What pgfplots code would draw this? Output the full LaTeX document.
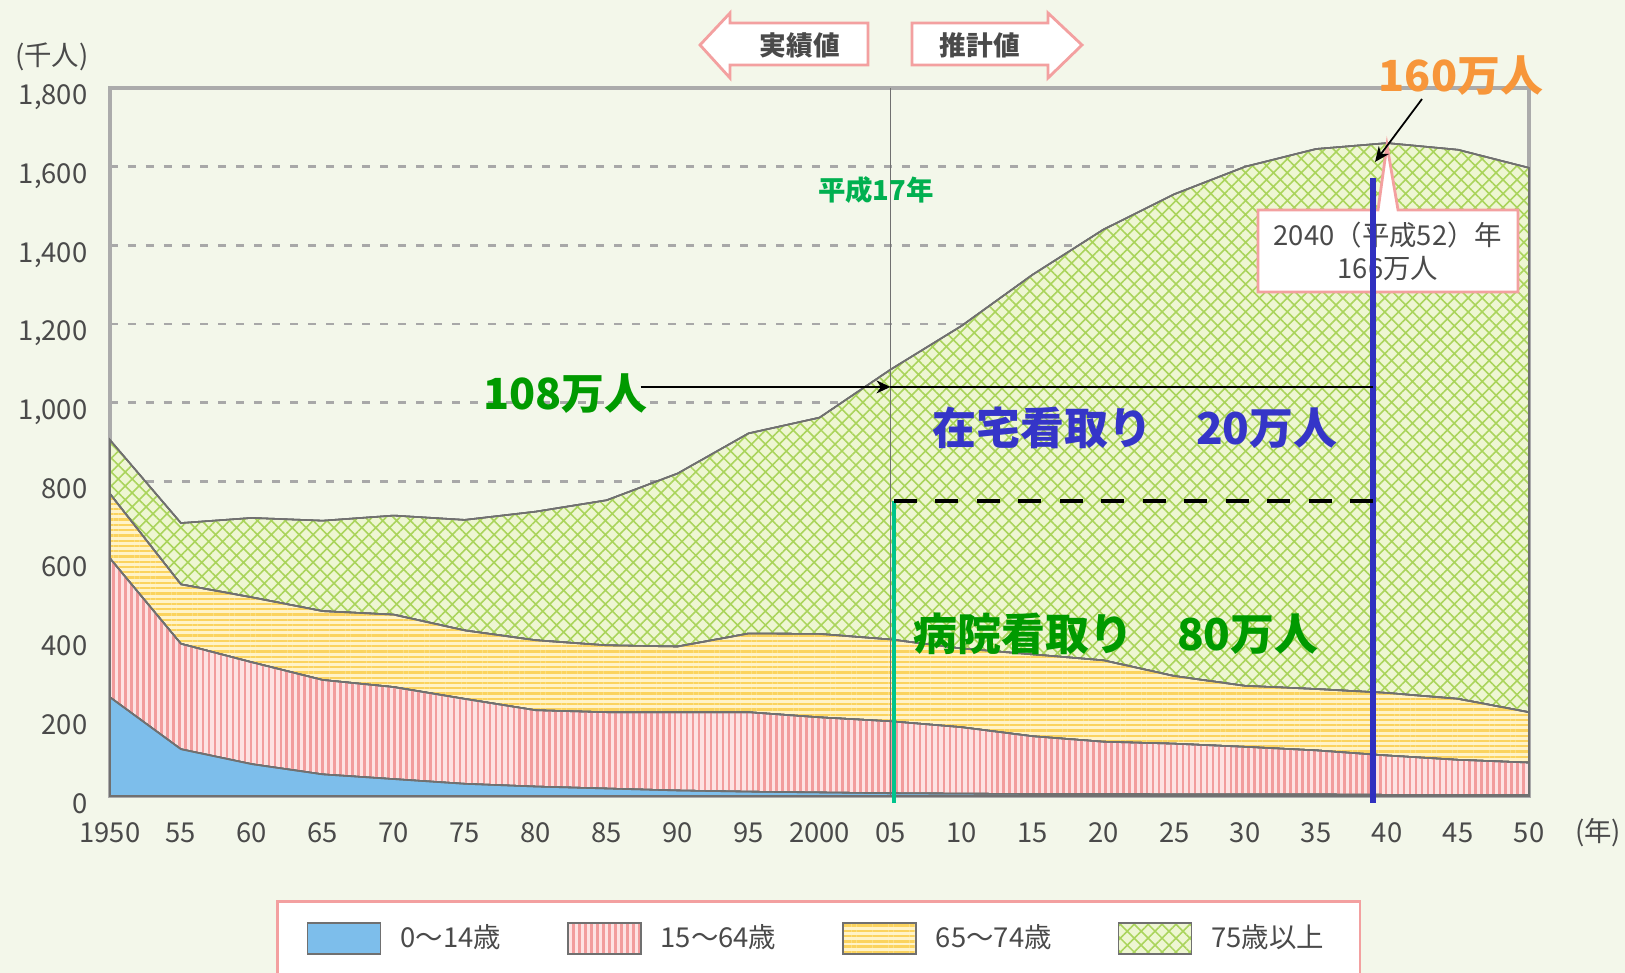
\documentclass[border=0pt]{standalone}
\usepackage{fontspec}
\setmainfont{Noto Sans CJK JP}
\usepackage{pgfplots}
\pgfplotsset{compat=1.18}
\usepackage{pgfplotstable}
\usetikzlibrary{patterns.meta,arrows.meta}

\definecolor{bg}{HTML}{F3F7EA}
\definecolor{axisgray}{HTML}{ABABAB}
\definecolor{gridgray}{HTML}{A8A8A8}
\definecolor{tickgray}{HTML}{4A4A4A}
\definecolor{edge}{HTML}{707070}
\definecolor{blueA}{HTML}{7DBEEB}
\definecolor{pinkBase}{HTML}{FDE2E2}
\definecolor{pinkLine}{HTML}{F29C9C}
\definecolor{yelBase}{HTML}{FFF3C8}
\definecolor{yelLine}{HTML}{FBD35E}
\definecolor{grnBase}{HTML}{EEF6D2}
\definecolor{grnLine}{HTML}{AAD45C}
\definecolor{greenT}{HTML}{009A00}
\definecolor{orangeT}{HTML}{F7963A}
\definecolor{blueT}{HTML}{3535C8}
\definecolor{blueL}{HTML}{3030C0}
\definecolor{tealL}{HTML}{00C48C}
\definecolor{hsGreen}{HTML}{00B050}
\definecolor{pinkB}{HTML}{F3A0A0}
\definecolor{vline}{HTML}{707070}

\pgfplotstableread{
year a b c d
1950 251 353 164 137
1955 119 268 151 156
1960 81 259 165 202
1965 55 240 175 230
1970 43 234 184 252
1975 31 216 174 281
1980 24 194 178 327
1985 19 194 170 369
1990 14 199 167 440
1995 11 202 200 509
2000 9 191 212 550
2005 7 183 208 686
2010 6 169 200 820
2015 5 147 208 965
2020 5 133 207 1095
2025 4 129 172 1225
2030 4 121 155 1320
2035 4 112 156 1373
2040 3 100 159 1398
2045 3 89 155 1396
2050 3 82 128 1384
}\deaths

\begin{document}
\begin{tikzpicture}
\path[use as bounding box, fill=bg] (-11mm,-17.7mm) rectangle (151.5mm,79.6mm);
\begin{axis}[
  at={(0,0)}, anchor=south west, scale only axis,
  width=141.9mm, height=70.8mm,
  xmin=1950, xmax=2050, ymin=0, ymax=1800,
  stack plots=y,
  clip=false,
  axis line style={draw=axisgray, line width=0.9pt},
  major tick length=0pt,
  xtick={1950,1955,...,2050},
  xticklabels={1950,55,60,65,70,75,80,85,90,95,2000,05,10,15,20,25,30,35,40,45,50},
  ytick={0,200,...,1800},
  yticklabels={0,200,400,600,800,{1,000},{1,200},{1,400},{1,600},{1,800}},
  ymajorgrids,
  major grid style={draw=gridgray, line width=0.7pt, dash pattern=on 0.8mm off 1.0mm},
  tick label style={font=\fontsize{7.8}{9}\selectfont, text=tickgray, inner sep=0pt},
  xticklabel style={anchor=base, yshift=-4.6mm},
  yticklabel style={anchor=base east, xshift=-2.2mm, yshift=-1.7mm},
  legend style={at={(0.4996,-0.147)}, anchor=north, draw=pinkB, line width=0.8pt,
    fill=white, legend columns=4, font=\fontsize{7.8}{9}\selectfont, text=tickgray,
    inner xsep=2.9mm, inner ysep=1.6mm,
    /tikz/every odd column/.append style={column sep=1.2mm},
    /tikz/every even column/.append style={column sep=5.9mm}},
  legend image code/.code={\draw[#1, draw=edge, line width=0.45pt] (0mm,-1.55mm) rectangle (7.3mm,1.55mm);},
]
\addplot[draw=edge, line width=0.45pt, preaction={fill=blueA}]
  table[x=year,y=a]{\deaths} \closedcycle;
\addlegendentry{0〜14歳}
\addplot[draw=edge, line width=0.45pt, preaction={fill=pinkBase},
  preaction={pattern={Lines[angle=90,distance=1.7pt,line width=0.75pt]}, pattern color=pinkLine}]
  table[x=year,y=b]{\deaths} \closedcycle;
\addlegendentry{15〜64歳}
\addplot[draw=edge, line width=0.45pt, preaction={fill=yelBase},
  preaction={pattern={Lines[angle=0,distance=1.5pt,line width=0.65pt]}, pattern color=yelLine}]
  table[x=year,y=c]{\deaths} \closedcycle;
\addlegendentry{65〜74歳}
\addplot[draw=edge, line width=0.45pt, preaction={fill=grnBase},
  preaction={pattern={Hatch[angle=45,distance=2.8pt,line width=0.45pt]}, pattern color=grnLine}]
  table[x=year,y=d]{\deaths} \closedcycle;
\addlegendentry{75歳以上}

\coordinate (d0) at (axis cs:2005,0);
\coordinate (d1) at (axis cs:2005,1800);
\coordinate (c1) at (axis cs:2030.9,1490);
\coordinate (c2) at (axis cs:2039.36,1490);
\coordinate (c3) at (axis cs:2039.99,1655);
\coordinate (c4) at (axis cs:2040.77,1490);
\coordinate (c5) at (axis cs:2049.22,1490);
\coordinate (c6) at (axis cs:2049.22,1281.5);
\coordinate (c7) at (axis cs:2030.9,1281.5);
\coordinate (t1) at (axis cs:2040.06,1426);
\coordinate (t2) at (axis cs:2040.06,1342);
\coordinate (b1) at (axis cs:2039,1571);
\coordinate (b2) at (axis cs:2039,-18);
\coordinate (g1) at (axis cs:2005.25,751);
\coordinate (g2) at (axis cs:2005.25,-18);
\coordinate (h2) at (axis cs:2039,751);
\coordinate (a1) at (axis cs:1987.4,1040);
\coordinate (a2) at (axis cs:2005,1040);
\coordinate (a3) at (axis cs:2039,1040);
\coordinate (e1) at (axis cs:2042.46,1772);
\coordinate (e2) at (axis cs:2039.15,1612);
\coordinate (n160) at (axis cs:2045.2,1831);
\coordinate (n108) at (axis cs:1982.07,1022);
\coordinate (nzai) at (axis cs:2022.23,936);
\coordinate (nbyo) at (axis cs:2020.9,412);
\coordinate (nhs) at (axis cs:2003.98,1541);
\end{axis}
% 2005 divider
\draw[vline, line width=0.4pt] (d0) -- (d1);
% callout
\draw[draw=pinkB, line width=0.8pt, fill=white] (c1) -- (c2) -- (c3) -- (c4) -- (c5) -- (c6) -- (c7) -- cycle;
\node[font=\fontsize{7.8}{9}\selectfont, text=tickgray] at (t1) {2040（平成52）年};
\node[font=\fontsize{7.8}{9}\selectfont, text=tickgray] at (t2) {166万人};
% lines
\draw[blueL, line width=1.5pt] (b1) -- (b2);
\draw[tealL, line width=1.4pt] (g1) -- (g2);
\draw[black, line width=1.15pt, dash pattern=on 2.3mm off 1.845mm] (g1) -- (h2);
\draw[line width=0.5pt, -{Stealth[length=1.4mm,width=1.3mm]}] (a1) -- (a2);
\draw[line width=0.6pt] (a2) -- (a3);
\draw[line width=0.5pt, -{Stealth[length=1.5mm,width=1.3mm]}] (e1) -- (e2);
% texts
\node[text=orangeT, font=\fontsize{12.2}{14}\selectfont\bfseries] at (n160) {160万人};
\node[text=greenT, font=\fontsize{12.2}{14}\selectfont\bfseries] at (n108) {108万人};
\node[text=blueT, font=\fontsize{12.5}{14}\selectfont\bfseries] at (nzai) {在宅看取り　20万人};
\node[text=greenT, font=\fontsize{12.5}{14}\selectfont\bfseries] at (nbyo) {病院看取り　80万人};
\node[text=hsGreen, font=\fontsize{7.8}{9}\selectfont\bfseries] at (nhs) {平成17年};
% top arrows
\draw[draw=pinkB, line width=0.8pt, fill=white] (59mm,75.1mm) -- (62mm,78.3mm) -- (62mm,77.3mm) -- (75.8mm,77.3mm) -- (75.8mm,73.1mm) -- (62mm,73.1mm) -- (62mm,71.8mm) -- cycle;
\draw[draw=pinkB, line width=0.8pt, fill=white] (80.2mm,77.3mm) -- (93.8mm,77.3mm) -- (93.8mm,78.3mm) -- (97.2mm,75.1mm) -- (93.8mm,71.8mm) -- (93.8mm,73.1mm) -- (80.2mm,73.1mm) -- cycle;
\node[font=\fontsize{7.6}{9}\selectfont\bfseries, text=tickgray] at (69mm,75.1mm) {実績値};
\node[font=\fontsize{7.6}{9}\selectfont\bfseries, text=tickgray] at (87mm,75.1mm) {推計値};
\node[font=\fontsize{7.8}{9}\selectfont, text=tickgray] at (-5.8mm,73.9mm) {(千人)};
\node[font=\fontsize{7.8}{9}\selectfont, text=tickgray, anchor=base, inner sep=0pt] at (148.8mm,-4.6mm) {(年)};
\end{tikzpicture}
\end{document}
